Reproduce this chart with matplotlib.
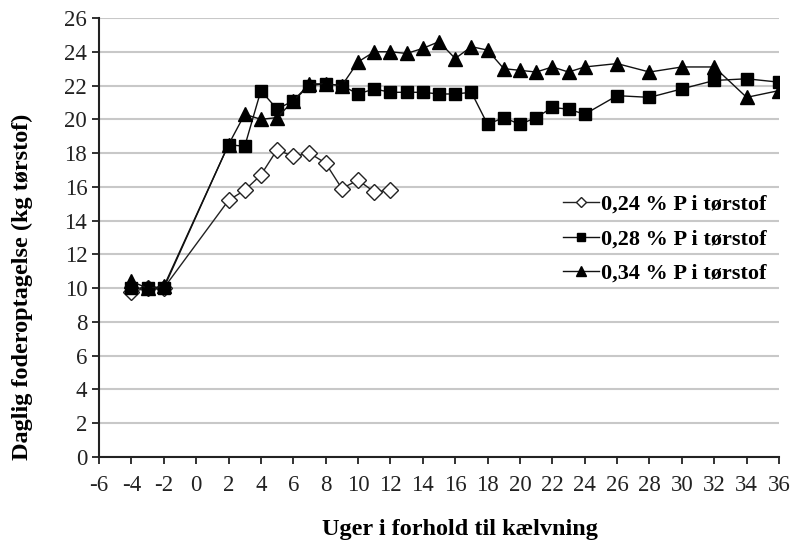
import matplotlib
matplotlib.use("Agg")
import matplotlib.pyplot as plt

weeks_a = [-4, -3, -2, 2, 3, 4, 5, 6, 7, 8, 9, 10, 11, 12]
p024 = [9.8, 10.0, 10.0, 15.2, 15.8, 16.7, 18.2, 17.8, 18.0, 17.4, 15.9, 16.4, 15.7, 15.8]

weeks_b = [-4, -3, -2, 2, 3, 4, 5, 6, 7, 8, 9, 10, 11, 12, 13, 14, 15, 16, 17, 18,
           19, 20, 21, 22, 23, 24, 26, 28, 30, 32, 34, 36]
p028 = [10.0, 10.0, 10.0, 18.5, 18.4, 21.7, 20.6, 21.1, 22.0, 22.1, 22.0, 21.5, 21.8, 21.6,
        21.6, 21.6, 21.5, 21.5, 21.6, 19.7, 20.1, 19.7, 20.1, 20.7, 20.6, 20.3, 21.4, 21.3,
        21.8, 22.3, 22.4, 22.2]
p034 = [10.4, 10.0, 10.1, 18.5, 20.3, 20.0, 20.1, 21.1, 22.1, 22.1, 22.0, 23.4, 24.0, 24.0,
        23.9, 24.2, 24.6, 23.6, 24.3, 24.1, 23.0, 22.9, 22.8, 23.1, 22.8, 23.1, 23.3, 22.8,
        23.1, 23.1, 21.3, 21.7]

labels = ["0,24 % P i tørstof", "0,28 % P i tørstof", "0,34 % P i tørstof"]
xticks = list(range(-6, 37, 2))
yticks = list(range(0, 27, 2))

plt.rcParams['font.family'] = ['Liberation Serif', 'DejaVu Serif']
plt.rcParams['axes.unicode_minus'] = False

fig = plt.figure(figsize=(7.94, 5.45), dpi=100)
ax = fig.add_axes([99/794, 1-457/545, (779-99)/794, (457-18)/545])

ax.plot(weeks_a, p024, color='#222222', lw=1.0, marker='D', ms=8, mfc='white',
        mec='#222222', mew=1.0, label=labels[0], zorder=3)
ax.plot(weeks_b, p028, color='#111111', lw=1.0, marker='s', ms=8, mfc='black',
        mec='black', label=labels[1], zorder=3)
ax.plot(weeks_b, p034, color='#111111', lw=1.0, marker='^', ms=9.5, mfc='black',
        mec='black', label=labels[2], zorder=4)

ax.set_xlim(-6, 36)
ax.set_ylim(0, 26)
ax.set_xticks(xticks)
ax.set_yticks(yticks)
ax.tick_params(axis='both', labelsize=16.5, length=5, width=1.3, direction='out', colors='#222222')
ax.tick_params(axis='x', pad=8)
ax.yaxis.grid(True, color='#c8c8c8', lw=1.5)
ax.set_axisbelow(True)
for s in ['top', 'right']:
    ax.spines[s].set_visible(False)
for s in ['left', 'bottom']:
    ax.spines[s].set_linewidth(1.5)
    ax.spines[s].set_color('#222222')

ax.set_xlabel("Uger i forhold til kælvning", fontsize=17.5, fontweight='bold', va='center')
ax.xaxis.set_label_coords(0.531, -0.166)
ax.set_ylabel("Daglig foderoptagelse (kg tørstof)", fontsize=17.5, fontweight='bold', va='center')
ax.yaxis.set_label_coords((22-99)/680, 0.387)

leg = ax.legend(loc='center left', bbox_to_anchor=(563/794, 1-239/545),
                bbox_transform=fig.transFigure, frameon=False, handlelength=1.6,
                handletextpad=0.1, labelspacing=0.62, borderpad=0, borderaxespad=0,
                prop={'size': 16, 'weight': 'bold'}, markerscale=0.7)

fig.savefig("out.png", dpi=100)
